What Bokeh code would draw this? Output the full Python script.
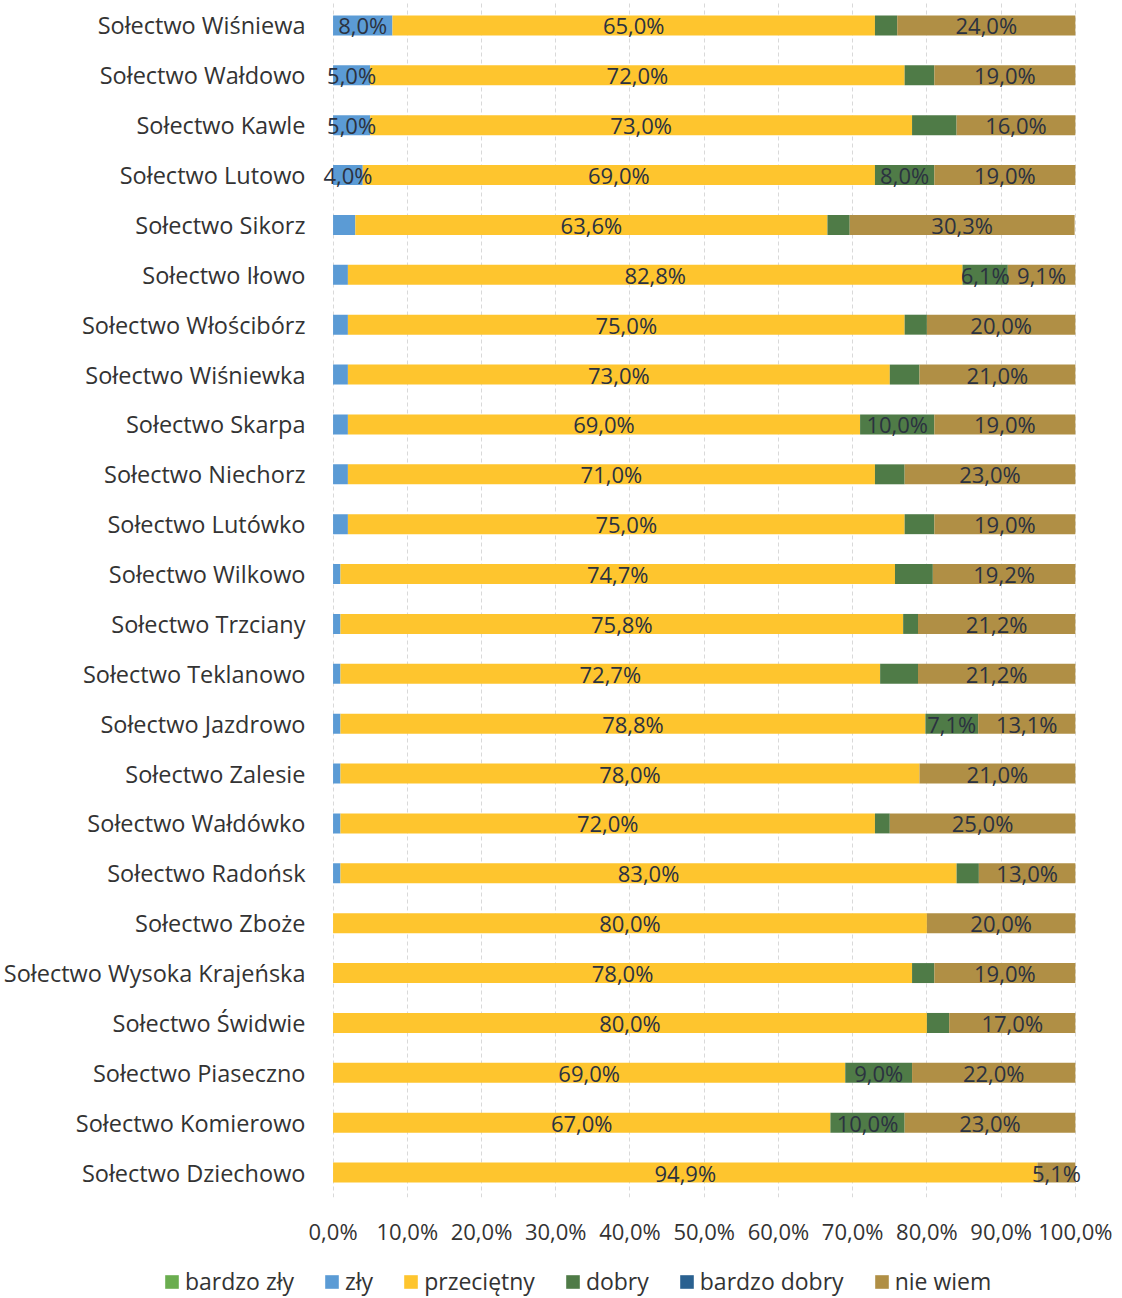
import numpy as np
from bokeh.plotting import figure
from bokeh.layouts import column
from bokeh.models import ColumnDataSource, Legend, LegendItem, FixedTicker, Range1d
from bokeh.core.properties import value
from bokeh.embed import file_html
from bokeh.resources import INLINE

# ---------------- data (top row first) ----------------
categories = [
    "Sołectwo Wiśniewa", "Sołectwo Wałdowo", "Sołectwo Kawle", "Sołectwo Lutowo",
    "Sołectwo Sikorz", "Sołectwo Iłowo", "Sołectwo Włościbórz", "Sołectwo Wiśniewka",
    "Sołectwo Skarpa", "Sołectwo Niechorz", "Sołectwo Lutówko", "Sołectwo Wilkowo",
    "Sołectwo Trzciany", "Sołectwo Teklanowo", "Sołectwo Jazdrowo", "Sołectwo Zalesie",
    "Sołectwo Wałdówko", "Sołectwo Radońsk", "Sołectwo Zboże", "Sołectwo Wysoka Krajeńska",
    "Sołectwo Świdwie", "Sołectwo Piaseczno", "Sołectwo Komierowo", "Sołectwo Dziechowo",
]
bardzo_zly = [0.0] * 24
zly = [8.0, 5.0, 5.0, 4.0, 3.0, 2.0, 2.0, 2.0, 2.0, 2.0, 2.0, 1.0,
       1.0, 1.0, 1.0, 1.0, 1.0, 1.0, 0.0, 0.0, 0.0, 0.0, 0.0, 0.0]
przecietny = [65.0, 72.0, 73.0, 69.0, 63.6, 82.8, 75.0, 73.0, 69.0, 71.0, 75.0, 74.7,
              75.8, 72.7, 78.8, 78.0, 72.0, 83.0, 80.0, 78.0, 80.0, 69.0, 67.0, 94.9]
dobry = [3.0, 4.0, 6.0, 8.0, 3.0, 6.1, 3.0, 4.0, 10.0, 4.0, 4.0, 5.1,
         2.0, 5.1, 7.1, 0.0, 2.0, 3.0, 0.0, 3.0, 3.0, 9.0, 10.0, 0.0]
bardzo_dobry = [0.0] * 24
nie_wiem = [24.0, 19.0, 16.0, 19.0, 30.3, 9.1, 20.0, 21.0, 19.0, 23.0, 19.0, 19.2,
            21.2, 21.2, 13.1, 21.0, 25.0, 13.0, 20.0, 19.0, 17.0, 22.0, 23.0, 5.1]

# which segments carry a data label in the original
zly_labelled = [True, True, True, True] + [False] * 20
przecietny_labelled = [True] * 24
dobry_labelled = [False, False, False, True, False, True, False, False, True, False, False, False,
                  False, False, True, False, False, False, False, False, False, True, True, False]
nie_wiem_labelled = [True] * 24

series_names = ["bardzo zły", "zły", "przeciętny", "dobry", "bardzo dobry", "nie wiem"]
series_keys = ["bz", "z", "p", "d", "bd", "nw"]
series_values = [bardzo_zly, zly, przecietny, dobry, bardzo_dobry, nie_wiem]
series_colors = ["#6aad4f", "#5b9bd5", "#fec52e", "#4f7b47", "#2a6190", "#b08f45"]
label_masks = [[False] * 24, zly_labelled, przecietny_labelled, dobry_labelled,
               [False] * 24, nie_wiem_labelled]

x_ticks = [0, 10, 20, 30, 40, 50, 60, 70, 80, 90, 100]
x_tick_labels = ["0,0%", "10,0%", "20,0%", "30,0%", "40,0%", "50,0%",
                 "60,0%", "70,0%", "80,0%", "90,0%", "100,0%"]

# ---------------- build ----------------
n = len(categories)
ypos = list(np.arange(n, 0, -1).astype(float))

data = {"y": ypos, "cat": categories}
for k, v in zip(series_keys, series_values):
    data[k] = v
source = ColumnDataSource(data)

FONT = "Open Sans"

p = figure(width=1122, height=1252, output_backend="svg", toolbar_location=None,
           x_range=Range1d(-2.5, 101.5), y_range=Range1d(0.5, 24.5),
           min_border_left=314, min_border_right=36, min_border_top=0, min_border_bottom=55)
p.frame_align = False
p.outline_line_color = None
p.background_fill_color = "white"
p.border_fill_color = "white"

p.hbar_stack(series_keys, y="y", height=0.4, color=series_colors,
             line_color=None, source=source)

# data labels
lx, ly, lt = [], [], []
cum = np.zeros(n)
for vals, mask in zip(series_values, label_masks):
    arr = np.array(vals, dtype=float)
    for i in range(n):
        if mask[i] and arr[i] > 0:
            lx.append(cum[i] + arr[i] / 2.0)
            ly.append(ypos[i])
            lt.append(f"{arr[i]:.1f}%".replace(".", ","))
    cum = cum + arr
lsrc = ColumnDataSource(dict(x=lx, y=ly, t=lt))
p.text(x="x", y="y", text="t", source=lsrc, text_font=value(FONT),
       text_font_size="22px", text_align="center", text_baseline="middle",
       text_color="#2b3240")

# axes
p.xaxis.ticker = FixedTicker(ticks=x_ticks)
p.xaxis.major_label_overrides = {t: l for t, l in zip(x_ticks, x_tick_labels)}
p.yaxis.ticker = FixedTicker(ticks=ypos)
p.yaxis.major_label_overrides = {y: c for y, c in zip(ypos, categories)}
for ax in (p.xaxis, p.yaxis):
    ax.axis_line_color = None
    ax.major_tick_line_color = None
    ax.minor_tick_line_color = None
    ax.major_tick_out = 0
    ax.major_tick_in = 0
    ax.minor_tick_out = 0
    ax.major_label_text_font = FONT
    ax.major_label_text_color = "#333333"
p.yaxis.major_label_text_font_size = "23.5px"
p.xaxis.major_label_text_font_size = "22px"
p.yaxis.major_label_standoff = 9
p.xaxis.major_label_standoff = 18

p.ygrid.grid_line_color = None
p.xgrid.ticker = FixedTicker(ticks=x_ticks)
p.xgrid.grid_line_color = "#d9d9d9"
p.xgrid.grid_line_dash = "4 3"

# ---------------- legend strip (separate, full-width) ----------------
q = figure(width=1122, height=46, output_backend="svg", toolbar_location=None,
           x_range=Range1d(1000, 1001), y_range=Range1d(1000, 1001),
           x_axis_location=None, y_axis_location=None,
           min_border_left=0, min_border_right=0, min_border_top=0, min_border_bottom=0)
q.frame_align = False
q.outline_line_color = None
q.grid.visible = False
q.background_fill_color = "white"
q.border_fill_color = "white"
legend_renderers = q.hbar_stack(series_keys, y="y", height=0.4, color=series_colors,
                                line_color=None, source=source)
legend = Legend(
    items=[LegendItem(label=nm, renderers=[r]) for nm, r in zip(series_names, legend_renderers)],
    orientation="horizontal", location=(163, 1),
    label_text_font=FONT, label_text_font_size="23px", label_text_color="#333333",
    glyph_width=17, glyph_height=17, label_standoff=5, spacing=29,
    padding=0, margin=0, border_line_color=None, background_fill_alpha=0,
)
q.add_layout(legend, "center")

layout = column(p, q, spacing=0)
open("out.html", "w").write(file_html(layout, INLINE))
